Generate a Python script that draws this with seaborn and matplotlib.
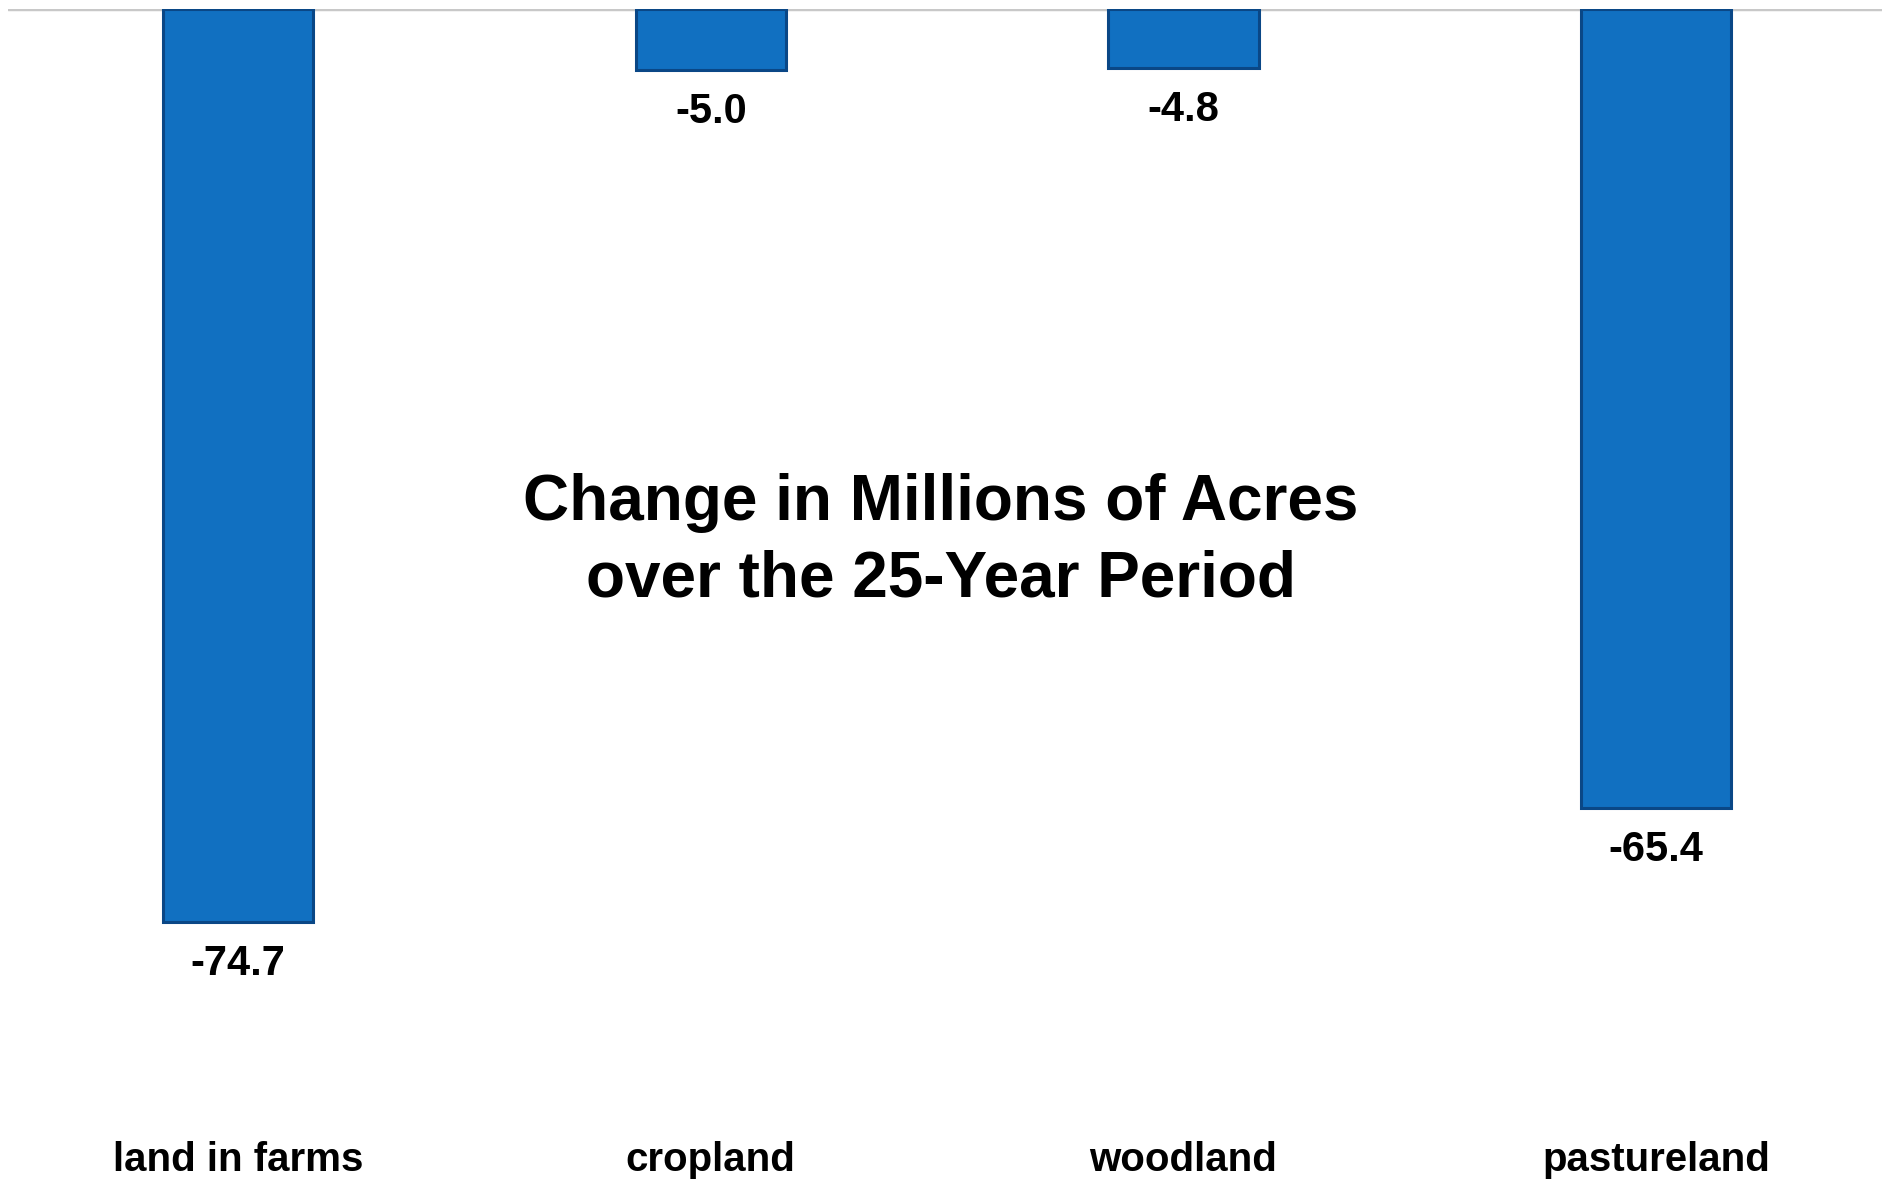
import matplotlib
matplotlib.use("Agg")
import matplotlib.pyplot as plt
import seaborn as sns
import pandas as pd

categories = ["land in farms", "cropland", "woodland", "pastureland"]
values = [-74.7, -5.0, -4.8, -65.4]
value_labels = ["-74.7", "-5.0", "-4.8", "-65.4"]
title_text = "Change in Millions of Acres\nover the 25-Year Period"

sns.set_style("white")
plt.rcParams["font.family"] = ["Liberation Sans", "DejaVu Sans"]

df = pd.DataFrame({"category": categories, "value": values})

fig = plt.figure(figsize=(18.83, 11.79), dpi=100)
ax = fig.add_axes([0.0042, 1 - 1133 / 1179, 0.9958, (1133 - 9) / 1179])

sns.barplot(data=df, x="category", y="value", color="#1170C1", saturation=1,
            width=0.318, edgecolor="#0A4786", linewidth=2.2, ax=ax, zorder=2)

ax.axhline(0, color="#C8C8C8", linewidth=2.5, zorder=1)
ax.set_ylim(-92, 0)
ax.set_xlim(-0.487, 3.48)

for i, (v, lab) in enumerate(zip(values, value_labels)):
    ax.annotate(lab, xy=(i, v), xytext=(0, -30.5), textcoords="offset points",
                ha="center", va="center", fontsize=30, fontweight="bold", color="black")

ax.set_xlabel("")
ax.set_ylabel("")
ax.set_yticks([])
ax.tick_params(axis="x", length=0, pad=6, labelsize=29, labelcolor="black")
for t in ax.get_xticklabels():
    t.set_fontweight("bold")
for s in ax.spines.values():
    s.set_visible(False)

fig.text(0.4995, 0.541, title_text, ha="center", va="center", fontsize=46,
         fontweight="bold", color="black", linespacing=1.34)

fig.savefig("out.png", dpi=100)
